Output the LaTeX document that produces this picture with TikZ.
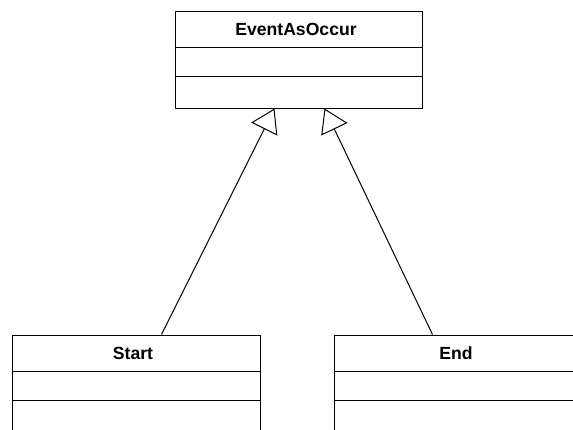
\documentclass[tikz,border=0pt]{standalone}
\usepackage{fontspec}
\setmainfont{Liberation Sans}
\usetikzlibrary{arrows.meta,calc,positioning}

\begin{document}
\begin{tikzpicture}[x=0.5pt, y=-0.5pt, line width=0.5pt,
    classbox/.style={draw, rectangle, inner sep=0pt},
    classname/.style={font=\fontsize{8.8}{10}\selectfont\bfseries, inner sep=0pt},
    inherit/.style={-{Triangle[open, length=11.5pt, width=14.5pt]}}]
  \useasboundingbox (0,0) rectangle (573,429);
  \clip (0,0) rectangle (573,429);
  \node[classbox, minimum width=123.5pt, minimum height=48.5pt] (occur) at (298.5,59.5) {};
  \node[classname] (occurname) at (296,29) {EventAsOccur};
  \draw (occur.west |- 0,47) -- (occur.east |- 0,47);
  \draw (occur.west |- 0,76) -- (occur.east |- 0,76);
  \node[classbox, minimum width=124pt, minimum height=55pt] (start) at (136,390) {};
  \node[classname] (startname) at (133,353) {Start};
  \draw (start.west |- 0,371) -- (start.east |- 0,371);
  \draw (start.west |- 0,400) -- (start.east |- 0,400);
  \node[classbox, minimum width=124pt, minimum height=55pt] (end) at (458,390) {};
  \node[classname] (endname) at (456,353) {End};
  \draw (end.west |- 0,371) -- (end.east |- 0,371);
  \draw (end.west |- 0,400) -- (end.east |- 0,400);
  \draw[inherit] ($(start.north west)+(150,0)$) -- ($(occur.south west)+(100,0)$);
  \draw[inherit] ($(end.north west)+(99,0)$) -- ($(occur.south west)+(150,0)$);
\end{tikzpicture}
\end{document}
